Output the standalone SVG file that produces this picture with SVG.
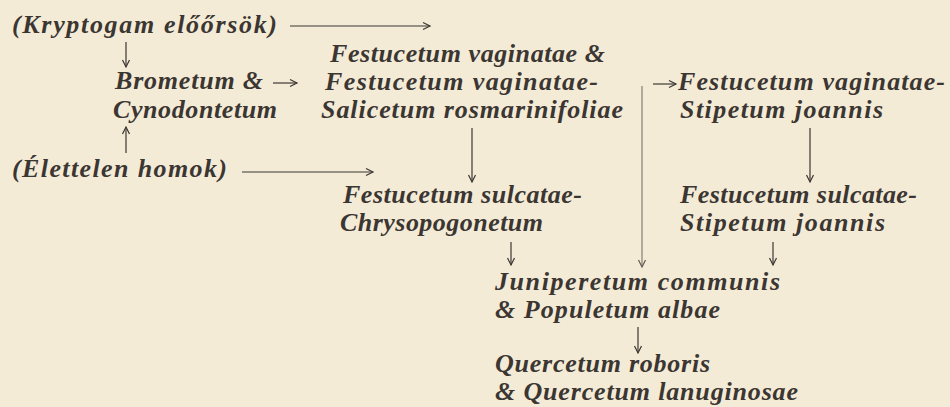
<svg xmlns="http://www.w3.org/2000/svg" width="950" height="407" viewBox="0 0 950 407">
<style>
.t{font-family:"Liberation Serif","DejaVu Serif",serif;font-style:italic;font-weight:bold;font-size:26px;fill:#3b3632}
.c{stroke:#3b3632;stroke-width:1.2;fill:none}
.thin{stroke:#3b3632;stroke-width:0.9;fill:none;opacity:0.8}
</style>
<defs>
<marker id="ah" markerWidth="10" markerHeight="10" viewBox="-8 -5 10 10" refX="0" refY="0" orient="auto" markerUnits="userSpaceOnUse">
<path d="M-7,-3.5 L0,0 L-7,3.5" fill="none" stroke="#3b3632" stroke-width="1.2"/>
</marker>
</defs>
<rect width="950" height="407" fill="#f4ebd7"/>
<g id="kryptogam"><text class="t" x="12" y="33" textLength="265" lengthAdjust="spacing">(Kryptogam előőrsök)</text></g>
<g id="brometum">
<text class="t" x="115" y="89" textLength="148" lengthAdjust="spacing">Brometum &amp;</text>
<text class="t" x="113" y="118" textLength="164" lengthAdjust="spacing">Cynodontetum</text>
</g>
<g id="elettelen"><text class="t" x="12" y="177" textLength="215" lengthAdjust="spacing">(Élettelen homok)</text></g>
<g id="festucetum-vaginatae-salicetum">
<text class="t" x="330" y="62" textLength="275" lengthAdjust="spacing">Festucetum vaginatae &amp;</text>
<text class="t" x="325" y="90" textLength="273" lengthAdjust="spacing">Festucetum vaginatae-</text>
<text class="t" x="321" y="118" textLength="302" lengthAdjust="spacing">Salicetum rosmarinifoliae</text>
</g>
<g id="festucetum-vaginatae-stipetum">
<text class="t" x="678" y="90" textLength="267" lengthAdjust="spacing">Festucetum vaginatae-</text>
<text class="t" x="680" y="118" textLength="203" lengthAdjust="spacing">Stipetum joannis</text>
</g>
<g id="festucetum-sulcatae-chrysopogonetum">
<text class="t" x="343" y="203" textLength="239" lengthAdjust="spacing">Festucetum sulcatae-</text>
<text class="t" x="340" y="231" textLength="203" lengthAdjust="spacing">Chrysopogonetum</text>
</g>
<g id="festucetum-sulcatae-stipetum">
<text class="t" x="680" y="203" textLength="237" lengthAdjust="spacing">Festucetum sulcatae-</text>
<text class="t" x="680" y="231" textLength="205" lengthAdjust="spacing">Stipetum joannis</text>
</g>
<g id="juniperetum">
<text class="t" x="495" y="290" textLength="285" lengthAdjust="spacing">Juniperetum communis</text>
<text class="t" x="495" y="318" textLength="225" lengthAdjust="spacing">&amp; Populetum albae</text>
</g>
<g id="quercetum">
<text class="t" x="495" y="372" textLength="215" lengthAdjust="spacing">Quercetum roboris</text>
<text class="t" x="495" y="400" textLength="303" lengthAdjust="spacing">&amp; Quercetum lanuginosae</text>
</g>
<g id="connectors">
<line class="c" x1="290" y1="26" x2="430" y2="26" marker-end="url(#ah)"/>
<line class="c" x1="126" y1="42" x2="126" y2="67" marker-end="url(#ah)"/>
<line class="c" x1="273" y1="83" x2="297" y2="83" marker-end="url(#ah)"/>
<line class="c" x1="126" y1="153" x2="126" y2="127" marker-end="url(#ah)"/>
<line class="c" x1="242" y1="172" x2="373" y2="172" marker-end="url(#ah)"/>
<line class="c" x1="472" y1="128" x2="472" y2="182" marker-end="url(#ah)"/>
<line class="thin" x1="642" y1="86" x2="642" y2="267" marker-end="url(#ah)"/>
<line class="c" x1="653" y1="84" x2="676" y2="84" marker-end="url(#ah)"/>
<line class="c" x1="810" y1="128" x2="810" y2="182" marker-end="url(#ah)"/>
<line class="c" x1="511" y1="242" x2="511" y2="265" marker-end="url(#ah)"/>
<line class="c" x1="773" y1="242" x2="773" y2="265" marker-end="url(#ah)"/>
<line class="c" x1="638" y1="327" x2="638" y2="353" marker-end="url(#ah)"/>
</g>
</svg>
